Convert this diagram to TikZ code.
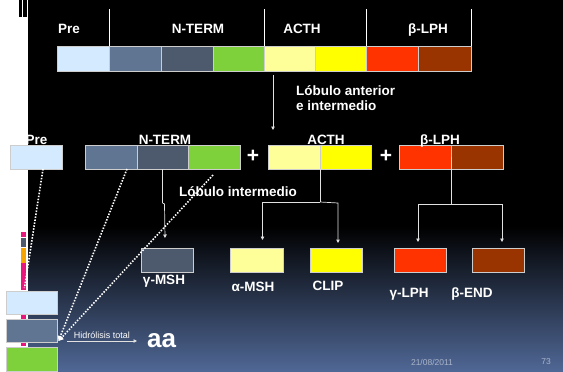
\documentclass[tikz,border=0pt]{standalone}
\usepackage{fontspec}
\setmainfont{Liberation Sans}
\usetikzlibrary{arrows.meta}
\definecolor{bgblue}{RGB}{80,104,150}
\definecolor{cpre}{RGB}{212,234,255}
\definecolor{slatea}{RGB}{95,117,145}
\definecolor{slateb}{RGB}{77,90,110}
\definecolor{cgreen}{RGB}{127,209,59}
\definecolor{lyellow}{RGB}{255,255,153}
\definecolor{cyellow}{RGB}{255,255,0}
\definecolor{cred}{RGB}{255,51,0}
\definecolor{cbrown}{RGB}{153,51,0}
\definecolor{mpink}{RGB}{232,23,125}
\definecolor{morange}{RGB}{245,164,0}
\definecolor{segline}{RGB}{205,205,205}
\definecolor{connc}{RGB}{225,225,225}
\definecolor{footc}{RGB}{170,180,200}
\tikzset{
  seg/.style={draw=segline, line width=0.8pt, minimum width=52pt, minimum height=25pt,
    inner sep=0pt, outer sep=0pt, anchor=north west},
  box/.style={seg, minimum height=24pt},
  lab/.style={text=white, font=\bfseries\fontsize{13.5}{15}\selectfont, anchor=base, inner sep=0pt},
  plus/.style={text=white, font=\bfseries\fontsize{21}{22}\selectfont, inner sep=0pt},
  conn/.style={draw=connc, line width=0.7pt},
  arr/.style={conn, -{Triangle[width=3.5pt,length=3.5pt]}},
  sepl/.style={draw=white, line width=0.6pt},
  dots/.style={draw=white, line width=1.6pt, dash pattern=on 1.5pt off 1.5pt},
  foot/.style={text=footc, font=\fontsize{8.5}{10}\selectfont, inner sep=0pt}
}
\begin{document}
\begin{tikzpicture}[x=1pt,y=-1pt]
\useasboundingbox (0,0) rectangle (563,372);
% background
\fill[white] (0,0) rectangle (563,372);
\fill[black] (28,0) rectangle (563,372);
\shade[top color=black,bottom color=bgblue] (28,226) rectangle (563,372);
% left-edge marks
\fill[black] (19,0) rectangle (22.3,17);
\fill[black] (23.3,0) rectangle (26.7,17);
\fill[mpink] (21,232) rectangle (26,237);
\fill[slateb] (21,238) rectangle (26,247);
\fill[morange] (21,248) rectangle (26,263);
\fill[mpink] (21,263) rectangle (26,290);
\fill[mpink] (21,315) rectangle (26,319);
\fill[mpink] (21,343) rectangle (26,346);
% top bar
\node[seg,fill=cpre] (t1) at (57,46) {};
\node[seg,fill=slatea] (t2) at (109,46) {};
\node[seg,fill=slateb] (t3) at (161,46) {};
\node[seg,fill=cgreen] (t4) at (213,46) {};
\node[seg,fill=lyellow,minimum width=51pt] (t5) at (264,46) {};
\node[seg,fill=cyellow,minimum width=51pt] (t6) at (315,46) {};
\node[seg,fill=cred] (t7) at (366,46) {};
\node[seg,fill=cbrown,minimum width=53pt] (t8) at (418,46) {};
\draw[sepl] (t2.north west) -- ++(0,-37);
\draw[sepl] (t5.north west) -- ++(0,-37);
\draw[sepl] (t7.north west) -- ++(0,-37);
\draw[sepl] (t8.north east) -- ++(0,-37);
\node[lab] (tlpre) at (69,33) {Pre};
\node[lab] (tlnt) at (198,33) {N-TERM};
\node[lab] (tlacth) at (302,33) {ACTH};
\node[lab] (tlblph) at (428,33) {β-LPH};
% arrow down
\coordinate (ta) at (273,75);
\coordinate (tb) at (273,130);
\draw[arr] (ta) -- (tb);
\node[lab,anchor=base west,align=left] (lant) at (296,95) {Lóbulo anterior};
\node[lab,anchor=base west,align=left] (lint) at (296,110) {e intermedio};
% row 2
\node[box,fill=cpre] (r0) at (10,145) {};
\node[box,fill=slatea] (r1) at (85,145) {};
\node[box,fill=slateb,minimum width=51pt] (r2) at (137,145) {};
\node[box,fill=cgreen] (r3) at (188,145) {};
\node[box,fill=lyellow] (r4) at (268,145) {};
\node[box,fill=cyellow,minimum width=51pt] (r5) at (320,145) {};
\node[box,fill=cred] (r6) at (399,145) {};
\node[box,fill=cbrown] (r7) at (451,145) {};
\node[plus] (p1) at (253,156) {+};
\node[plus] (p2) at (386,156) {+};
\node[lab] (lpre) at (36.5,144) {Pre};
\node[lab] (lnt) at (165,144) {N-TERM};
\node[lab] (lacth) at (326,144) {ACTH};
\node[lab] (lblph) at (440,144) {β-LPH};
\node[lab,anchor=base west] (lobint) at (179,196) {Lóbulo intermedio};
% row 3
\node[box,fill=slateb] (gmsh) at (141,248) {};
\node[box,fill=lyellow,minimum width=53pt] (amsh) at (230,248) {};
\node[box,fill=cyellow] (clip) at (310,248) {};
\node[box,fill=cred] (glph) at (394,248) {};
\node[box,fill=cbrown] (bend) at (472,248) {};
\node[lab] (lgmsh) at (164,284.5) {γ-MSH};
\node[lab] (lamsh) at (253,291) {α-MSH};
\node[lab] (lclip) at (328,290.5) {CLIP};
\node[lab] (lglph) at (409,297) {γ-LPH};
\node[lab] (lbend) at (472,297) {β-END};
% connectors
\draw[conn] (r2.south) -- ++(0,34) coordinate (gj);
\draw[arr] (gj) -- ++(2,1) -- ([xshift=-2pt,yshift=10pt]gmsh.north);
\draw[conn] (r4.south east) -- ++(0,33) coordinate (aj);
\draw[arr] (aj) -| ([xshift=6pt,yshift=8pt]amsh.north);
\draw[arr] (aj) -- ++(18,1) -- ([xshift=2pt,yshift=5pt]clip.north);
\draw[conn] (r7.west) -- ++(0,47) coordinate (bj);
\draw[arr] (bj) -| ([xshift=-2pt,yshift=6pt]glph.north);
\draw[arr] (bj) -| ([xshift=4pt,yshift=6pt]bend.north);
% left boxes
\node[seg,fill=cpre,minimum width=51pt,minimum height=23pt] (l1) at (6,291) {};
\node[seg,fill=slatea,minimum width=51pt,minimum height=23pt] (l2) at (6,319) {};
\node[seg,fill=cgreen,minimum width=51pt,minimum height=24pt] (l3) at (6,347) {};
% dotted lines
\coordinate (hp) at ([shift={(1.5pt,1pt)}]l2.south east);
\draw[dots] ([xshift=7pt]r0.south) -- ([xshift=-7pt,yshift=3pt]l1.north);
\draw[dots,-{Triangle[width=5pt,length=5pt]}] ([xshift=-10pt]r1.south east) -- (hp);
\draw[dots,-{Triangle[width=5pt,length=5pt]}] ([shift={(-1pt,-6pt)}]r3.south) -- (hp);
% hydrolysis
\node[text=white,font=\bfseries\fontsize{26}{28}\selectfont,inner sep=0pt,anchor=west] (aa) at (147,341) {aa};
\coordinate (hs) at (67,341);
\draw[arr] (hs) -- ([xshift=-10pt]aa.west) node[midway,above=2pt,text=white,inner sep=0pt,font=\fontsize{9}{10}\selectfont] (hid) {Hidrólisis total};
% footer
\node[foot] (date) at (432,362) {21/08/2011};
\node[foot] (pg) at (546,362) {73};
\end{tikzpicture}
\end{document}
